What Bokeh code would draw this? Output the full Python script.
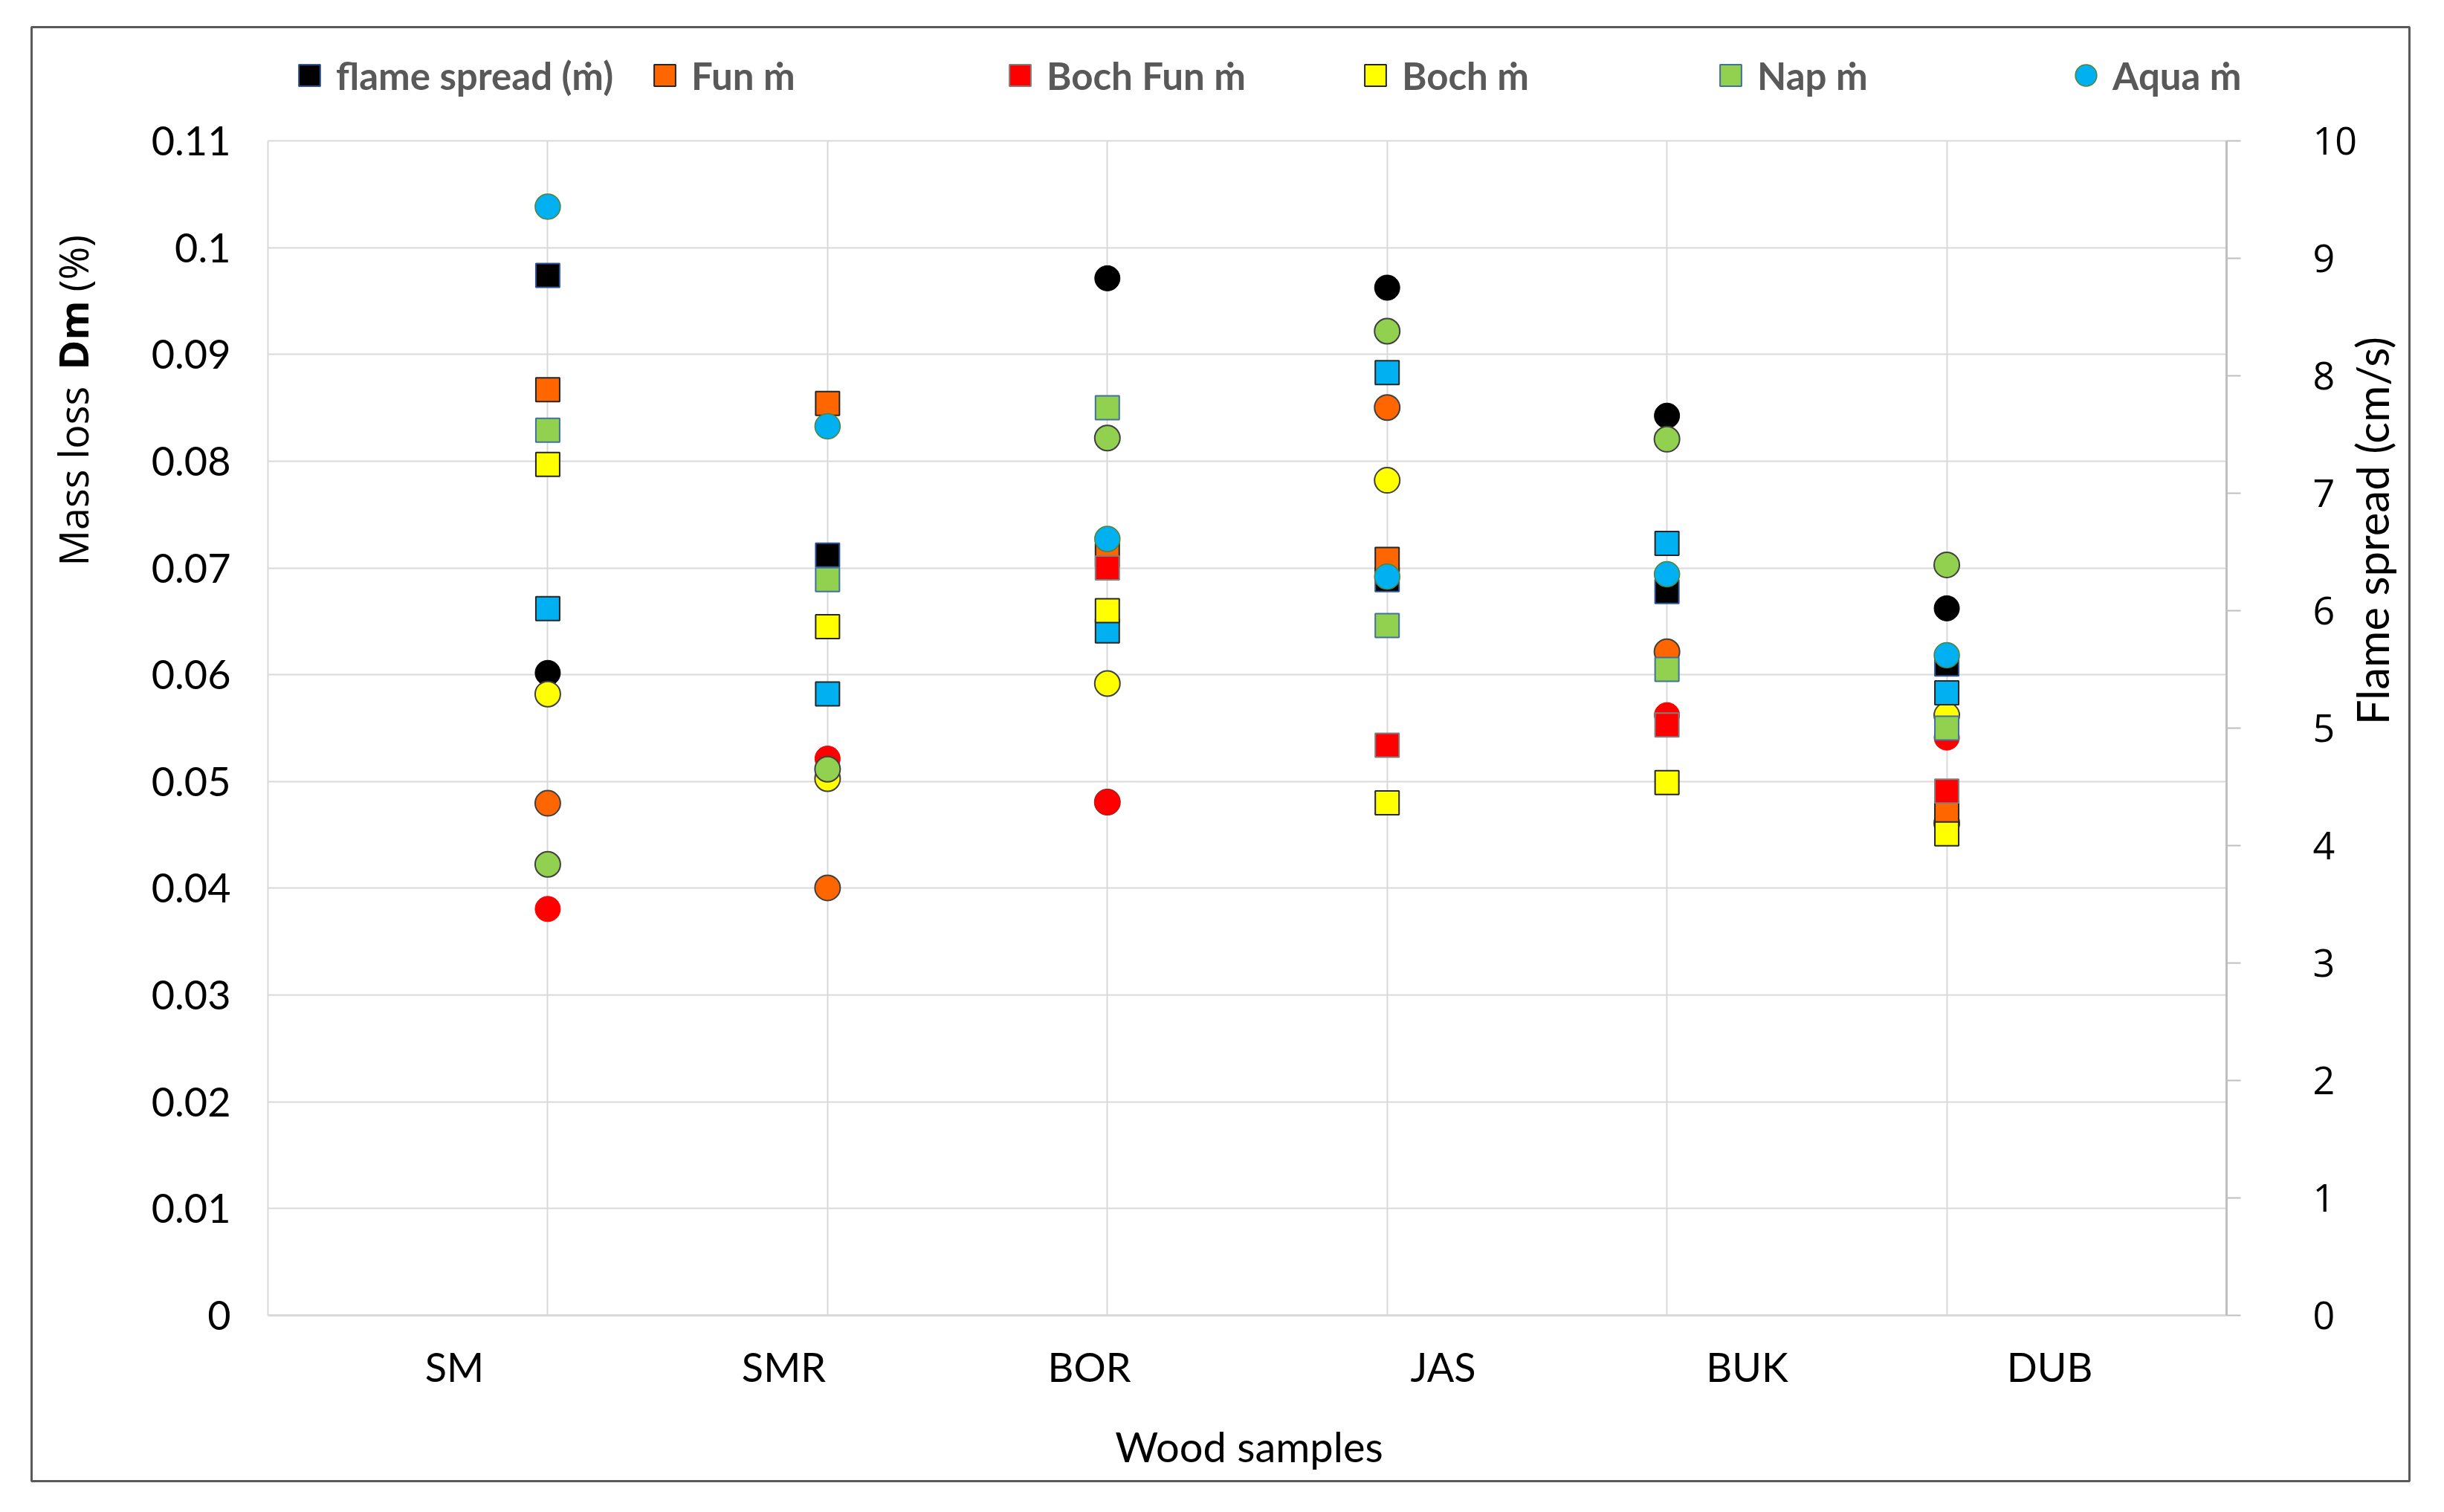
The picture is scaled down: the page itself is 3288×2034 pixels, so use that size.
import math
from bokeh.plotting import figure
from bokeh.models import (Range1d, LinearAxis, FixedTicker, NumeralTickFormatter,
                          ColumnDataSource, Legend, LegendItem, Label, BoxAnnotation)
from bokeh.embed import file_html
from bokeh.resources import INLINE

nan = float("nan")

# ---------------- data ----------------
categories = ["SM", "SMR", "BOR", "JAS", "BUK", "DUB"]
left_ticks = [0.0, 0.01, 0.02, 0.03, 0.04, 0.05, 0.06, 0.07, 0.08, 0.09, 0.1, 0.11]
right_ticks = [0, 1, 2, 3, 4, 5, 6, 7, 8, 9, 10]

# mass loss Dm (%) - square markers, left axis
flame_dm = [0.0974, 0.0712, nan, 0.0689, 0.0678, 0.0610]
fun_dm = [0.0867, 0.0854, 0.0712, 0.0708, nan, 0.0471]
bochfun_dm = [nan, nan, 0.0700, 0.0534, 0.0553, 0.0491]
boch_dm = [0.0797, 0.0645, 0.0660, 0.0480, 0.0499, 0.0451]
nap_dm = [0.0829, 0.0689, 0.0850, 0.0646, 0.0605, 0.0550]
aqua_dm = [0.0662, 0.0582, 0.0641, 0.0883, 0.0723, 0.0583]

# flame spread (cm/s) - circle markers, right axis
flame_fs = [5.47, nan, 8.83, 8.75, 7.66, 6.02]
fun_fs = [4.36, 3.64, 4.37, 7.73, 5.65, 4.19]
bochfun_fs = [3.46, 4.74, 4.37, nan, 5.11, 4.92]
boch_fs = [5.29, 4.57, 5.38, 7.11, nan, 5.11]
nap_fs = [3.84, 4.65, 7.47, 8.38, 7.46, 6.39]
aqua_fs = [9.44, 7.57, 6.61, 6.29, 6.31, 5.62]

legend_labels = ["flame spread (ṁ)", "Fun ṁ", "Boch Fun ṁ", "Boch ṁ", "Nap ṁ", "Aqua ṁ"]

# ---------------- layout (page pixels) ----------------
CANVAS_X, CANVAS_Y = 0, 8          # where the canvas lands on the page
CANVAS_W, CANVAS_H = 3272, 2018
IN_LEFT, IN_W = 360, 2635          # plotting area (page px)
IN_TOP, IN_H = 197, 1580
N = len(categories)
STEP = N
X_MAX = (N + 1) * STEP
Y_MAX = 0.11
FS_MAX = 10
GRID_COL = "#D9D9D9"
CAT_LABEL_PX = [611, 1054, 1465, 1941, 2350, 2757]   # category label centres (page px)


def px_x(page_x):
    return (page_x - IN_LEFT) / IN_W * X_MAX


def px_y(page_y):
    return (IN_TOP + IN_H - page_y) / IN_H * Y_MAX


xs = [STEP * (i + 1) for i in range(N)]
label_ticks = [round(px_x(v), 4) for v in CAT_LABEL_PX]

src = ColumnDataSource(dict(
    x=xs,
    flame_dm=flame_dm, fun_dm=fun_dm, bochfun_dm=bochfun_dm, boch_dm=boch_dm,
    nap_dm=nap_dm, aqua_dm=aqua_dm,
    flame_fs=flame_fs, fun_fs=fun_fs, bochfun_fs=bochfun_fs, boch_fs=boch_fs,
    nap_fs=nap_fs, aqua_fs=aqua_fs,
))

y0, y1 = px_y(CANVAS_Y + CANVAS_H), px_y(CANVAS_Y)
p = figure(frame_width=CANVAS_W, frame_height=CANVAS_H, title=None,
           min_border_left=0, min_border_right=0, min_border_top=0, min_border_bottom=0,
           x_range=Range1d(px_x(CANVAS_X), px_x(CANVAS_X + CANVAS_W)),
           y_range=Range1d(y0, y1),
           x_axis_type=None, y_axis_type=None,
           output_backend="svg", toolbar_location=None,
           background_fill_color="white", border_fill_color="white")
p.outline_line_color = None
p.grid.visible = False
p.extra_y_ranges = {"fs": Range1d(y0 / Y_MAX * FS_MAX, y1 / Y_MAX * FS_MAX)}

# left axis (its inward ticks form the horizontal grid lines)
ax_l = LinearAxis(fixed_location=0, bounds=(0, Y_MAX), ticker=FixedTicker(ticks=left_ticks),
                  formatter=NumeralTickFormatter(format="0.[00]"), level="underlay")
ax_l.axis_line_color = GRID_COL
ax_l.axis_line_width = 2
ax_l.major_tick_out = 0
ax_l.major_tick_in = IN_W
ax_l.major_tick_line_color = GRID_COL
ax_l.major_tick_line_width = 2
ax_l.minor_tick_line_color = None
ax_l.major_label_standoff = 50
ax_l.major_label_text_font = "Lato"
ax_l.major_label_text_font_size = "54px"
ax_l.major_label_text_color = "black"
p.add_layout(ax_l, "left")

# vertical grid lines at each sample (inward ticks of an unlabeled axis)
ax_g = LinearAxis(fixed_location=0, bounds=(0, X_MAX), ticker=FixedTicker(ticks=xs),
                  level="underlay")
ax_g.major_label_overrides = {x: "" for x in xs}
ax_g.axis_line_color = None
ax_g.major_tick_out = 0
ax_g.major_tick_in = IN_H
ax_g.major_tick_line_color = GRID_COL
ax_g.major_tick_line_width = 2
ax_g.minor_tick_line_color = None
p.add_layout(ax_g, "below")

# bottom axis with the sample names
ax_b = LinearAxis(fixed_location=0, bounds=(0, X_MAX), ticker=FixedTicker(ticks=label_ticks))
ax_b.major_label_overrides = {t: c for t, c in zip(label_ticks, categories)}
ax_b.axis_line_color = GRID_COL
ax_b.axis_line_width = 3
ax_b.major_tick_line_color = None
ax_b.minor_tick_line_color = None
ax_b.major_label_standoff = 30
ax_b.major_label_text_font = "Lato"
ax_b.major_label_text_font_size = "54px"
ax_b.major_label_text_color = "black"
p.add_layout(ax_b, "below")

# right axis
ax_r = LinearAxis(y_range_name="fs", fixed_location=X_MAX, bounds=(0, FS_MAX),
                  ticker=FixedTicker(ticks=right_ticks))
ax_r.axis_line_color = "#BFBFBF"
ax_r.axis_line_width = 3
ax_r.major_tick_line_color = "#BFBFBF"
ax_r.major_tick_line_width = 2
ax_r.major_tick_out = 19
ax_r.major_tick_in = 0
ax_r.minor_tick_line_color = None
ax_r.major_label_standoff = 97
ax_r.major_label_text_font = "Open Sans"
ax_r.major_label_text_font_size = "52px"
ax_r.major_label_text_color = "black"
p.add_layout(ax_r, "right")

# ---------------- markers ----------------
SQ, CI = 32, 34


def circ(col, fill, line, lw=2):
    return p.scatter("x", col, source=src, y_range_name="fs", marker="circle", size=CI,
                     fill_color=fill, line_color=line, line_width=lw)


def sq(col, fill, line, lw=2):
    return p.scatter("x", col, source=src, marker="square", size=SQ,
                     fill_color=fill, line_color=line, line_width=lw)


c_flame = circ("flame_fs", "black", "black", 1)
c_fun = circ("fun_fs", "#FF6600", "#404040")
c_bochfun = circ("bochfun_fs", "#FF0000", "#FF0000", 1)
c_boch = circ("boch_fs", "#FFFF00", "#404040")
c_nap = circ("nap_fs", "#92D050", "#404040")

s_flame = sq("flame_dm", "black", "#2F5597")
s_fun = sq("fun_dm", "#FF6600", "#262626")
s_bochfun = sq("bochfun_dm", "#FF0000", "#7F7F7F")
s_aqua = sq("aqua_dm", "#00B0F0", "#262626")
s_boch = sq("boch_dm", "#FFFF00", "#262626")
s_nap = sq("nap_dm", "#92D050", "#41719C")

c_aqua = circ("aqua_fs", "#00B0F0", "#548235", 1.5)

# ---------------- legend ----------------
legend = Legend(items=[
    LegendItem(label=legend_labels[0], renderers=[s_flame]),
    LegendItem(label=legend_labels[1], renderers=[s_fun]),
    LegendItem(label=legend_labels[2], renderers=[s_bochfun]),
    LegendItem(label=legend_labels[3], renderers=[s_boch]),
    LegendItem(label=legend_labels[4], renderers=[s_nap]),
    LegendItem(label=legend_labels[5], renderers=[c_aqua]),
], location=(380 - CANVAS_X, CANVAS_Y + CANVAS_H - 145), orientation="horizontal",
    glyph_width=72, glyph_height=72, label_standoff=-6, label_width=390,
    spacing=16, padding=0, margin=0,
    border_line_color=None, background_fill_alpha=0,
    label_text_font="Lato", label_text_font_size="51px",
    label_text_font_style="bold", label_text_color="#595959")
p.add_layout(legend)

# ---------------- axis titles ----------------
TITLE_X = px_x(97)
for txt, py, style in [("Mass loss", 769, "normal"), ("Dm", 505, "bold"), ("(%)", 400, "normal")]:
    p.add_layout(Label(x=TITLE_X, y=px_y(py), text=txt, angle=math.pi / 2,
                       text_align="left", text_baseline="middle",
                       text_font="Open Sans", text_font_size="54px",
                       text_font_style=style, text_color="black"))

p.add_layout(Label(x=px_x(3190), y=px_y(714), text="Flame  spread (cm/s)", angle=math.pi / 2,
                   text_align="center", text_baseline="middle",
                   text_font="Lato", text_font_size="60px", text_color="black"))

p.add_layout(Label(x=px_x(1680), y=px_y(1953), text="Wood samples",
                   text_align="center", text_baseline="middle",
                   text_font="Lato", text_font_size="56px", text_color="black"))

# ---------------- outer frame ----------------
p.add_layout(BoxAnnotation(left=px_x(42), right=px_x(3241), top=px_y(44), bottom=px_y(2000),
                           fill_alpha=0, line_alpha=1, line_color="#595959", line_width=3))

open("out.html", "w").write(file_html(p, INLINE))
